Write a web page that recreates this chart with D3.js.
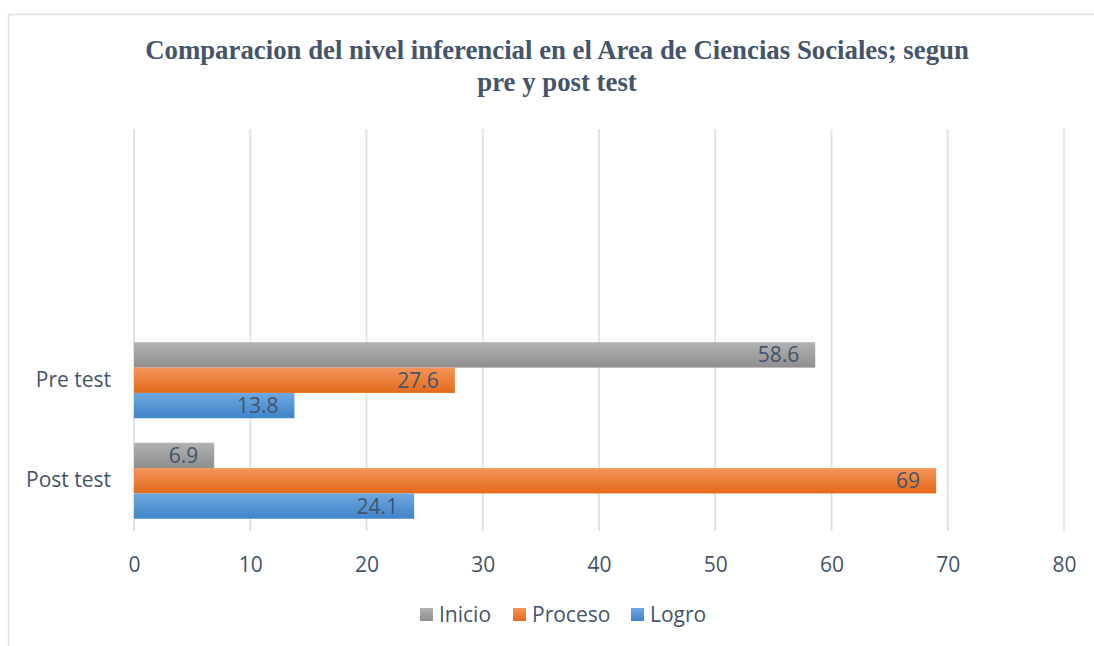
<!DOCTYPE html>
<html>
<head>
<meta charset="utf-8">
<script src="https://cdn.jsdelivr.net/npm/d3@7"></script>
<style>
  body { margin: 0; background: #fff; }
  svg { display: block; }
</style>
</head>
<body>
<div id="chart"></div>
<script>
  'use strict';

  // data
  var categories = ['', ' ', 'Pre test', 'Post test'];   // top to bottom, two empty slots like the original
  var seriesNames = ['Inicio', 'Proceso', 'Logro'];
  var inicio = [null, null, 58.6, 6.9];
  var proceso = [null, null, 27.6, 69];
  var logro = [null, null, 13.8, 24.1];
  var xTicks = [0, 10, 20, 30, 40, 50, 60, 70, 80];
  var titleLines = ['Comparacion del nivel inferencial en el Area de Ciencias Sociales; segun', 'pre y post test'];

  (function() {
    var w = 1094,
      h = 646;
    var plotLeft = 134, plotRight = 1064, plotTop = 129, plotBottom = 531;
    var textColor = '#44546a';
    var font = '"Open Sans", sans-serif';

    var colors = {
      Inicio: ['#b2b2b2', '#8e8e8e'],
      Proceso: ['#f5955a', '#e3691a'],
      Logro: ['#6fa8e0', '#3f84c9']
    };

    var svg = d3.select('#chart')
      .append('svg')
      .attr('width', w)
      .attr('height', h);

    var defs = svg.append('defs');
    seriesNames.forEach(function(name) {
      var g = defs.append('linearGradient')
        .attr('id', 'grad-' + name)
        .attr('x1', 0).attr('y1', 0).attr('x2', 0).attr('y2', 1);
      g.append('stop').attr('offset', '0%').attr('stop-color', colors[name][0]);
      g.append('stop').attr('offset', '100%').attr('stop-color', colors[name][1]);
    });

    // chart frame
    svg.append('rect')
      .attr('x', 8.5).attr('y', 14.5)
      .attr('width', 1200).attr('height', 800)
      .attr('fill', 'none')
      .attr('stroke', '#dde1e6')
      .attr('stroke-width', 1.5);

    // title
    svg.append('text')
      .attr('text-anchor', 'middle')
      .attr('font-family', '"Liberation Serif", "Times New Roman", serif')
      .attr('font-weight', 'bold')
      .attr('font-size', 26.8)
      .attr('fill', textColor)
      .selectAll('tspan')
      .data(titleLines)
      .join('tspan')
      .attr('x', 557)
      .attr('y', function(d, i) { return 59 + i * 32; })
      .text(function(d) { return d; });

    var x = d3.scaleLinear().domain([0, 80]).range([plotLeft, plotRight]);
    var y = d3.scaleBand().domain(categories).range([plotTop, plotBottom])
      .paddingInner(0.244).paddingOuter(0.122);
    var ySub = d3.scaleBand().domain(seriesNames).range([0, y.bandwidth()]);

    // gridlines
    svg.append('g')
      .selectAll('line')
      .data(xTicks)
      .join('line')
      .attr('x1', function(d) { return x(d); })
      .attr('x2', function(d) { return x(d); })
      .attr('y1', plotTop)
      .attr('y2', plotBottom)
      .attr('stroke', '#dfe3ea')
      .attr('stroke-width', 2);

    // x axis labels
    var xAxis = svg.append('g')
      .attr('transform', 'translate(0,' + plotBottom + ')')
      .call(d3.axisBottom(x).tickValues(xTicks).tickSize(0).tickPadding(26));
    xAxis.select('.domain').remove();
    xAxis.selectAll('text')
      .attr('font-family', font)
      .attr('font-size', 21)
      .attr('fill', textColor);

    // y axis labels
    var yAxis = svg.append('g')
      .attr('transform', 'translate(' + plotLeft + ',0)')
      .call(d3.axisLeft(y).tickSize(0).tickPadding(23));
    yAxis.select('.domain').remove();
    yAxis.selectAll('text')
      .attr('font-family', font)
      .attr('font-size', 21)
      .attr('fill', textColor);

    var rows = [];
    categories.forEach(function(c, i) {
      var vals = { Inicio: inicio[i], Proceso: proceso[i], Logro: logro[i] };
      seriesNames.forEach(function(s) {
        if (vals[s] != null) rows.push({ cat: c, series: s, value: vals[s] });
      });
    });

    var bars = svg.append('g');
    bars.selectAll('rect')
      .data(rows)
      .join('rect')
      .attr('x', x(0))
      .attr('y', function(d) { return y(d.cat) + ySub(d.series); })
      .attr('width', function(d) { return x(d.value) - x(0); })
      .attr('height', ySub.bandwidth())
      .attr('fill', function(d) { return 'url(#grad-' + d.series + ')'; });

    bars.selectAll('text')
      .data(rows)
      .join('text')
      .attr('x', function(d) { return x(d.value) - 16; })
      .attr('y', function(d) { return y(d.cat) + ySub(d.series) + ySub.bandwidth() / 2 + 7.5; })
      .attr('text-anchor', 'end')
      .attr('font-family', font)
      .attr('font-size', 21)
      .attr('fill', textColor)
      .text(function(d) { return d.value; });

    // legend
    var legendX = [420, 513, 631];
    var legend = svg.append('g')
      .selectAll('g')
      .data(seriesNames)
      .join('g')
      .attr('transform', function(d, i) { return 'translate(' + legendX[i] + ',608)'; });
    legend.append('rect')
      .attr('width', 13).attr('height', 13)
      .attr('fill', function(d) { return 'url(#grad-' + d + ')'; });
    legend.append('text')
      .attr('x', 19)
      .attr('y', 14)
      .attr('font-family', font)
      .attr('font-size', 21)
      .attr('fill', textColor)
      .text(function(d) { return d; });
  })();
</script>
</body>
</html>
